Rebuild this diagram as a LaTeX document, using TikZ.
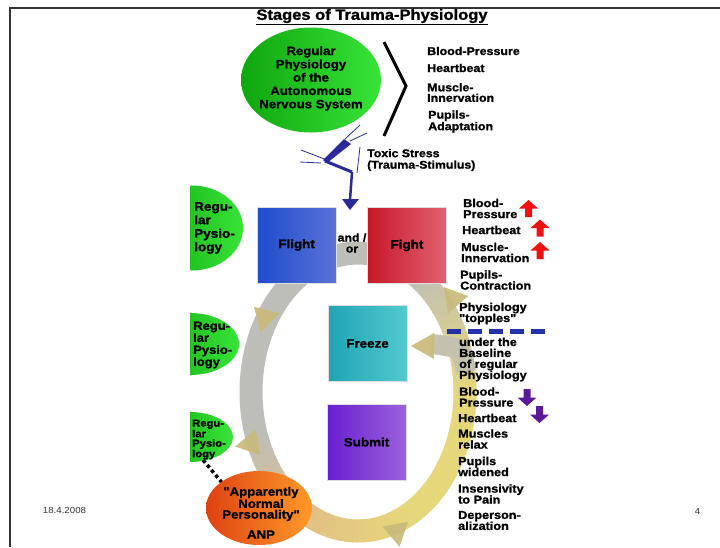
\documentclass[tikz,border=0pt]{standalone}
\usepackage{fontspec}
\setmainfont{Liberation Sans}[FakeStretch=1.1, Ligatures=TeXOff, BoldFeatures={FakeBold=1.2}]
\usetikzlibrary{shapes.geometric}
\definecolor{ringgray}{HTML}{BEBEB8}
\definecolor{ringyellow}{HTML}{E6D87A}
\definecolor{ringtan}{HTML}{E2BE86}
\definecolor{arrkhaki}{HTML}{C9BA7A}
\definecolor{arrred}{HTML}{F01010}
\definecolor{arrpurple}{HTML}{5A1A9A}
\definecolor{toxblue}{HTML}{2A2A9A}
\definecolor{dashblue}{HTML}{2233AA}
\definecolor{gdark}{HTML}{0FA60F}
\definecolor{glight}{HTML}{38E438}
\definecolor{framegray}{HTML}{333333}
\definecolor{flightA}{HTML}{1E4CCC}
\definecolor{flightB}{HTML}{5A72D8}
\definecolor{fightA}{HTML}{C81828}
\definecolor{fightB}{HTML}{E06272}
\definecolor{freezeA}{HTML}{1FA4B4}
\definecolor{freezeB}{HTML}{52CACF}
\definecolor{submitA}{HTML}{6A1ED2}
\definecolor{submitB}{HTML}{9A62DA}
\definecolor{anpA}{HTML}{DE4212}
\definecolor{anpB}{HTML}{FF9A28}
\begin{document}
\begin{tikzpicture}[x=1pt,y=-1pt,
  txt/.style={inner sep=0pt, align=left, anchor=west, font=\bfseries\fontsize{11.5}{11}\selectfont},
  boxst/.style={minimum width=79pt, minimum height=76pt, inner sep=0pt, font=\bfseries\fontsize{12.2}{12}\selectfont, draw=white!75!gray, line width=0.6pt, shading angle=-45},
  ringseg/.style={line width=23pt},
  khaki/.style={fill=arrkhaki, fill opacity=0.92},
  greenell/.style={ellipse, inner sep=0pt, left color=gdark, right color=glight},
  upar/.pic={\fill[arrred] (-9.5,0) -- (0,-8.5) -- (9.5,0) -- (3.5,0) -- (3.5,8.5) -- (-3.5,8.5) -- (-3.5,0) -- cycle;},
  dnar/.pic={\fill[arrpurple] (-9.5,0) -- (0,8.5) -- (9.5,0) -- (3.5,0) -- (3.5,-8.5) -- (-3.5,-8.5) -- (-3.5,0) -- cycle;},
  tri/.pic={\fill[khaki] (14,0) -- (-9,-13) -- (-9,13) -- cycle;}
]
\useasboundingbox (0,0) rectangle (720,547);
\fill[white] (0,0) rectangle (720,547);
% frame
\draw[framegray, line width=2.5pt] (10,547) -- (10,8) -- (720,8);
% title
\node[inner sep=0pt, font=\bfseries\fontsize{15}{15}\selectfont] (title) at (372,17) {\underline{Stages of Trauma-Physiology}};

% ring
\foreach \t in {0,2,...,58}
  \draw[ringseg, draw=ringyellow] plot[domain=\t:\t+2.6, samples=3] ({358+107*cos(\x)},{392+139*sin(\x)});
\foreach \t in {60,62,...,118}{
  \pgfmathtruncatemacro\p{(\t-60)/60*100}
  \draw[ringseg, draw=ringtan!\p!ringyellow] plot[domain=\t:\t+2.6, samples=3] ({358+107*cos(\x)},{392+139*sin(\x)});}
\foreach \t in {120,122,...,158}{
  \pgfmathtruncatemacro\p{(\t-120)/40*100}
  \draw[ringseg, draw=ringgray!\p!ringtan] plot[domain=\t:\t+2.6, samples=3] ({358+107*cos(\x)},{392+139*sin(\x)});}
\draw[ringseg, draw=ringgray] plot[domain=160:300.5, samples=60] ({358+107*cos(\x)},{392+139*sin(\x)});
\foreach \t in {300,302,...,358}{
  \pgfmathtruncatemacro\p{(\t-300)/60*100}
  \draw[ringseg, draw=ringyellow!\p!ringgray] plot[domain=\t:\t+2.6, samples=3] ({358+107*cos(\x)},{392+139*sin(\x)});}
% branch into Freeze
\coordinate (brA) at (466,372);
\coordinate (brB) at (432,344);
\draw[line width=20pt, draw=ringgray!85!ringyellow] (brA) .. controls (462,348) .. (brB);
% arrowheads on ring
\pic[rotate=180] at (425,346) {tri};
\pic[rotate=250] at (453,300) {tri};
\pic[rotate=15] at (266,317) {tri};
\pic[rotate=190] at (249,444) {tri};
\pic[rotate=280] at (397,533) {tri};

% top ellipse
\node[greenell, minimum width=140pt, minimum height=105pt] (ans) at (311,80) {};
\node[inner sep=0pt, align=center, font=\bfseries\fontsize{12}{13.3}\selectfont] (anstxt) at (311,78.5) {Regular\\Physiology\\of the\\Autonomous\\Nervous System};
% bracket
\coordinate (brk1) at (384,42);
\coordinate (brk2) at (406,86);
\coordinate (brk3) at (384,136);
\draw[line width=3pt] (brk1) -- (brk2) -- (brk3);
% top list
\node[txt, font=\bfseries\fontsize{11.3}{10.5}\selectfont] (t1) at (427,51) {Blood-Pressure};
\node[txt, font=\bfseries\fontsize{11.3}{10.5}\selectfont] (t2) at (427,68) {Heartbeat};
\node[txt, font=\bfseries\fontsize{11.3}{10.5}\selectfont] (t3) at (427,92.5) {Muscle-\\Innervation};
\node[txt, font=\bfseries\fontsize{11.3}{10.5}\selectfont] (t4) at (428,121.5) {Pupils-\\Adaptation};

% toxic stress glyph
\begin{scope}[toxblue]
\draw[line width=0.8pt] (345,139) -- (360,125);
\draw[line width=0.8pt] (350,141) -- (367,133);
\fill (344,139) -- (351,144) -- (327,163) -- (323,160) -- cycle;
\draw[line width=3pt] (325,161) -- (352,172);
\draw[line width=0.8pt] (301,150) -- (327,160);
\draw[line width=0.8pt] (300,162) -- (321,163);
\draw[line width=0.8pt] (360,147) -- (357,173);
\draw[line width=2.5pt] (352,172) -- (350,200);
\fill (342,199) -- (359,199) -- (350,210) -- cycle;
\end{scope}
\node[txt, font=\bfseries\fontsize{11.2}{11.5}\selectfont] (tox) at (367,160) {Toxic Stress\\(Trauma-Stimulus)};

% left regular physiology ellipses
\begin{scope}
\clip (190,0) rectangle (720,547);
\node[greenell, minimum width=102pt, minimum height=85pt] (rp1) at (192,228) {};
\node[greenell, minimum width=98pt, minimum height=62pt] (rp2) at (190,344) {};
\node[greenell, minimum width=86pt, minimum height=50pt] (rp3) at (190,437) {};
\end{scope}
\node[txt, font=\bfseries\fontsize{12.3}{13.5}\selectfont] (rp1t) at (194,228) {Regu-\\lar\\Pysio-\\logy};
\node[txt, font=\bfseries\fontsize{11.8}{12}\selectfont] (rp2t) at (193,345) {Regu-\\lar\\Pysio-\\logy};
\node[txt, font=\bfseries\fontsize{10.2}{9.5}\selectfont] (rp3t) at (192,439.5) {Regu-\\lar\\Pysio-\\logy};

% boxes
\node[boxst, left color=flightA, right color=flightB] (flight) at (296.5,245) {Flight};
\node[boxst, left color=fightA, right color=fightB] (fight) at (407,245.5) {Fight};
\node[boxst, left color=freezeA, right color=freezeB] (freeze) at (367.5,343.5) {Freeze};
\node[boxst, left color=submitA, right color=submitB] (submit) at (366.5,442) {Submit};
\node[inner sep=0pt, align=center, font=\bfseries\fontsize{11.2}{11}\selectfont] (andor) at (352,243) {and /\\or};

% ANP
\coordinate (dotA) at (203,460);
\coordinate (dotB) at (224,485);
\draw[line width=3.5pt, dash pattern=on 3.5pt off 3pt] (dotA) -- (dotB);
\node[ellipse, inner sep=0pt, minimum width=106pt, minimum height=74pt, left color=anpA, right color=anpB] (anp) at (259,508) {};
\node[inner sep=0pt, align=center, font=\bfseries\fontsize{12}{10.7}\selectfont] (anptxt) at (261,504) {"Apparently\\Normal\\Personality"};
\node[inner sep=0pt, font=\bfseries\fontsize{12}{11}\selectfont] (anplbl) at (261,534.5) {ANP};

% right list
\node[txt] (r1) at (463,208.5) {Blood-\\Pressure};
\node[txt] (r2) at (462,230) {Heartbeat};
\node[txt] (r3) at (461,252.5) {Muscle-\\Innervation};
\node[txt] (r4) at (460,280) {Pupils-\\Contraction};
\node[txt] (r5) at (459,313.5) {Physiology\\"topples"};
\node[txt] (r6) at (459,359.5) {under the\\Baseline\\of regular\\Physiology};
\node[txt] (r7) at (459,397) {Blood-\\Pressure};
\node[txt] (r8) at (458,418) {Heartbeat};
\node[txt] (r9) at (458,439) {Muscles\\relax};
\node[txt] (r10) at (458,466.5) {Pupils\\widened};
\node[txt] (r11) at (458,494) {Insensivity\\to Pain};
\node[txt] (r12) at (458,520.5) {Deperson-\\alization};
% baseline dashed
\coordinate (dashA) at (447,331);
\coordinate (dashB) at (551,331);
\draw[dashblue, line width=5pt, dash pattern=on 14pt off 7pt] (dashA) -- (dashB);
% block arrows
\pic at (528.5,208.5) {upar};
\pic at (540,228) {upar};
\pic at (540,250.5) {upar};
\pic at (527,397.5) {dnar};
\pic at (539.5,414.5) {dnar};

% footer
\node[inner sep=0pt, font=\fontsize{8.8}{8}\selectfont, text=framegray] (date) at (64.5,510.5) {18.4.2008};
\node[inner sep=0pt, font=\fontsize{8.8}{8}\selectfont, text=framegray] (page) at (697.5,511) {4};
\end{tikzpicture}
\end{document}
